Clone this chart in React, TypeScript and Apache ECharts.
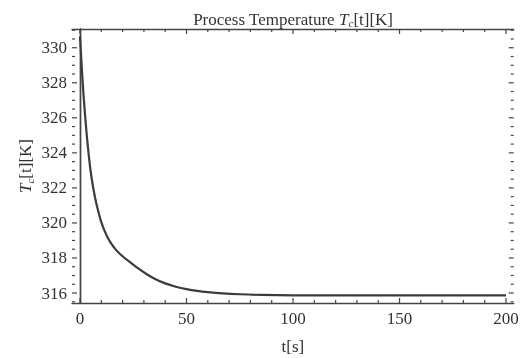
import React, { useEffect, useRef } from "react";
import * as echarts from "echarts";

const timeValues = [0, 0.5, 1, 1.5, 2, 3, 4, 5, 6, 7, 8, 10, 12, 14, 17, 20, 23, 27, 31, 35, 40, 45, 50, 55, 60, 67, 75, 85, 100, 150, 200];
const tempValues = [330.65, 329.6, 328.55, 327.6, 326.75, 325.25, 324.0, 322.95, 322.15, 321.5, 320.95, 320.05, 319.42, 318.95, 318.45, 318.1, 317.8, 317.43, 317.1, 316.82, 316.55, 316.36, 316.22, 316.12, 316.05, 315.98, 315.93, 315.89, 315.87, 315.87, 315.87];
const xMajorTicks = [0, 50, 100, 150, 200];
const xMinorTicks = [10, 20, 30, 40, 60, 70, 80, 90, 110, 120, 130, 140, 160, 170, 180, 190];
const yMajorTicks = [316, 318, 320, 322, 324, 326, 328, 330];
const yMinorTicks = [315.5, 316.5, 317, 317.5, 318.5, 319, 319.5, 320.5, 321, 321.5, 322.5, 323, 323.5, 324.5, 325, 325.5, 326.5, 327, 327.5, 328.5, 329, 329.5, 330.5, 331];

const FONT = "Liberation Serif";
const FRAME = "#444";
const TEXT = "#333";
const X_MIN = -3.75;
const X_MAX = 203.6;
const Y_MIN = 315.43;
const Y_MAX = 331.07;
const MAJOR_LEN = 5;
const MINOR_LEN = 3;

export default function App() {
  const ref = useRef<HTMLDivElement>(null);
  useEffect(() => {
    if (!ref.current) return;
    const chart = echarts.init(ref.current, null, { renderer: "svg" });
    const tickStyle = { stroke: FRAME, lineWidth: 1.2 };
    const labelStyle = (text: string, align: string, vAlign: string) => ({
      text,
      fontFamily: FONT,
      fontSize: 17,
      fill: TEXT,
      align,
      verticalAlign: vAlign,
    });
    const axisCommon = {
      splitLine: { show: false },
      axisLine: { show: true, lineStyle: { color: FRAME, width: 1.4 } },
      axisTick: { show: false },
      axisLabel: { show: false },
    };
    chart.setOption({
      animation: false,
      textStyle: { fontFamily: FONT },
      grid: { left: 72, right: 12.3, top: 29, bottom: 55, outerBoundsMode: "none" },
      graphic: [
        {
          type: "text",
          x: 293,
          y: 19,
          style: {
            text: "{n|Process Temperature }{i|T}{sub|c}{n|[t][K]}",
            align: "center",
            verticalAlign: "middle",
            rich: {
              n: { fontFamily: FONT, fontSize: 17, fill: TEXT },
              i: { fontFamily: FONT, fontSize: 17, fontStyle: "italic", fill: TEXT },
              sub: { fontFamily: FONT, fontSize: 11, fontStyle: "italic", fill: TEXT, padding: [8, 0, 0, 0] },
            },
          },
        },
      ],
      xAxis: [
        {
          ...axisCommon,
          type: "value",
          min: X_MIN,
          max: X_MAX,
          position: "bottom",
          name: "t[s]",
          nameLocation: "middle",
          nameGap: 35,
          nameMoveOverlap: false,
          nameTextStyle: { fontFamily: FONT, fontSize: 17, color: TEXT },
        },
        { ...axisCommon, type: "value", min: X_MIN, max: X_MAX, position: "top" },
      ],
      yAxis: [
        {
          ...axisCommon,
          type: "value",
          min: Y_MIN,
          max: Y_MAX,
          position: "left",
          name: "{i|T}{sub|c}{n|[t][K]}",
          nameLocation: "middle",
          nameGap: 37,
          nameRotate: 90,
          nameMoveOverlap: false,
          nameTextStyle: {
            fontFamily: FONT,
            fontSize: 17,
            color: TEXT,
            rich: {
              i: { fontFamily: FONT, fontSize: 17, fontStyle: "italic", color: TEXT },
              sub: { fontFamily: FONT, fontSize: 11, fontStyle: "italic", color: TEXT, padding: [8, 0, 0, 0] },
              n: { fontFamily: FONT, fontSize: 17, color: TEXT },
            },
          },
        },
        { ...axisCommon, type: "value", min: Y_MIN, max: Y_MAX, position: "right" },
      ],
      series: [
        {
          type: "line",
          xAxisIndex: 0,
          yAxisIndex: 0,
          data: timeValues.map((t, i) => [t, tempValues[i]]),
          showSymbol: false,
          smooth: 0.3,
          lineStyle: { color: "#3c3c3c", width: 2.2 },
          clip: true,
          z: 3,
        },
        {
          type: "custom",
          xAxisIndex: 0,
          yAxisIndex: 0,
          clip: false,
          silent: true,
          data: xMajorTicks.map((v) => [v, Y_MIN]),
          encode: { x: 0, y: 1 },
          renderItem: (params: any, api: any) => {
            const v = api.value(0);
            const b = api.coord([v, Y_MIN]);
            const t = api.coord([v, Y_MAX]);
            return {
              type: "group",
              children: [
                { type: "line", shape: { x1: b[0], y1: b[1], x2: b[0], y2: b[1] - MAJOR_LEN }, style: tickStyle },
                { type: "line", shape: { x1: t[0], y1: t[1], x2: t[0], y2: t[1] + MAJOR_LEN }, style: tickStyle },
                { type: "text", x: b[0], y: b[1] + 7, style: labelStyle(String(v), "center", "top") },
              ],
            };
          },
        },
        {
          type: "custom",
          xAxisIndex: 0,
          yAxisIndex: 0,
          clip: false,
          silent: true,
          data: yMajorTicks.map((v) => [X_MIN, v]),
          encode: { x: 0, y: 1 },
          renderItem: (params: any, api: any) => {
            const v = api.value(1);
            const l = api.coord([X_MIN, v]);
            const r = api.coord([X_MAX, v]);
            return {
              type: "group",
              children: [
                { type: "line", shape: { x1: l[0], y1: l[1], x2: l[0] + MAJOR_LEN, y2: l[1] }, style: tickStyle },
                { type: "line", shape: { x1: r[0], y1: r[1], x2: r[0] - MAJOR_LEN, y2: r[1] }, style: tickStyle },
                { type: "text", x: l[0] - 5, y: l[1], style: labelStyle(String(v), "right", "middle") },
              ],
            };
          },
        },
        {
          type: "custom",
          xAxisIndex: 0,
          yAxisIndex: 0,
          clip: false,
          silent: true,
          data: xMinorTicks.map((v) => [v, Y_MIN]),
          encode: { x: 0, y: 1 },
          renderItem: (params: any, api: any) => {
            const v = api.value(0);
            const b = api.coord([v, Y_MIN]);
            const t = api.coord([v, Y_MAX]);
            return {
              type: "group",
              children: [
                { type: "line", shape: { x1: b[0], y1: b[1], x2: b[0], y2: b[1] - MINOR_LEN }, style: tickStyle },
                { type: "line", shape: { x1: t[0], y1: t[1], x2: t[0], y2: t[1] + MINOR_LEN }, style: tickStyle },
              ],
            };
          },
        },
        {
          type: "custom",
          xAxisIndex: 0,
          yAxisIndex: 0,
          clip: false,
          silent: true,
          data: yMinorTicks.map((v) => [X_MIN, v]),
          encode: { x: 0, y: 1 },
          renderItem: (params: any, api: any) => {
            const v = api.value(1);
            const l = api.coord([X_MIN, v]);
            const r = api.coord([X_MAX, v]);
            return {
              type: "group",
              children: [
                { type: "line", shape: { x1: l[0], y1: l[1], x2: l[0] + MINOR_LEN, y2: l[1] }, style: tickStyle },
                { type: "line", shape: { x1: r[0], y1: r[1], x2: r[0] - MINOR_LEN, y2: r[1] }, style: tickStyle },
              ],
            };
          },
        },
      ],
    });
    return () => chart.dispose();
  }, []);
  return <div ref={ref} style={{ position: "fixed", left: 0, top: 0, width: 526, height: 358 }} />;
}
